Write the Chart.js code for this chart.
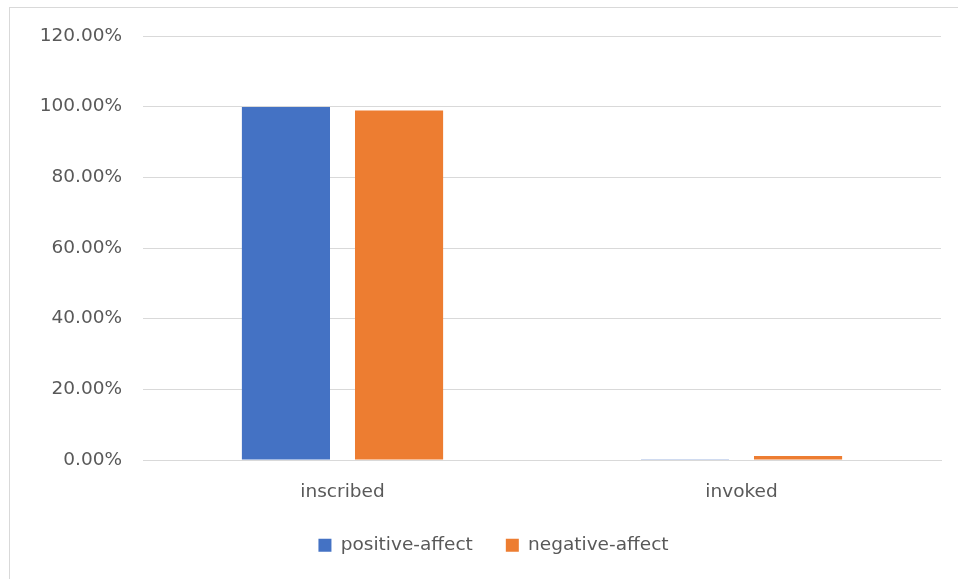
<!DOCTYPE html>
<html>
<head>
<meta charset="utf-8">
<script src="https://cdn.jsdelivr.net/npm/chart.js@4"></script>
<style>
    body { margin: 0; background: #fff; }
    #frame { position: absolute; left: 9px; top: 7px; width: 970px; height: 600px; border: 1px solid #d9d9d9; }
    #wrap { position: absolute; left: 0; top: 0; width: 958px; height: 579px; }
</style>
</head>
<body>
<div id="frame"></div>
<div id="wrap"><canvas id="g_affect"></canvas></div>
<script>
// categories et valeurs (en %)
const categories = ["inscribed", "invoked"];
const positiveAffect = [99.9, 0.1];
const negativeAffect = [98.9, 1.1];
const yTicks = [0, 20, 40, 60, 80, 100, 120];

const police = { family: "DejaVu Sans", size: 18.5 };

// decale la legende un peu a droite, comme dans Excel
const decaleLegende = {
    id: "decaleLegende",
    afterLayout: function(chart) {
        chart.legend.left += 23;
        chart.legend.right += 23;
    }
};

function affectChart() {
    const ctx = document.getElementById("g_affect").getContext("2d");
    let conData = {
        labels: categories,
        datasets: [{
            label: "positive-affect",
            backgroundColor: "#4472C4",
            data: positiveAffect
        }, {
            label: "negative-affect",
            backgroundColor: "#ED7D31",
            data: negativeAffect
        }]
    }
    let options = {
        responsive: true,
        maintainAspectRatio: false,
        animation: false,
        layout: { padding: { top: 36, right: 17, bottom: 14.5, left: 0 } },
        datasets: {
            bar: { categoryPercentage: 0.567, barPercentage: 0.779 }
        },
        scales: {
            x: {
                grid: { display: false, drawTicks: false },
                border: { color: "#d9d9d9" },
                ticks: { color: "#595959", font: police, padding: 21 },
                afterFit: function(axis) { axis.height = 43; }
            },
            y: {
                min: 0,
                max: 120,
                afterBuildTicks: function(axis) { axis.ticks = yTicks.map(v => ({ value: v })); },
                grid: { color: "#d9d9d9", drawTicks: false },
                border: { display: false },
                ticks: {
                    color: "#595959",
                    font: police,
                    padding: 21,
                    callback: function(v) { return v.toFixed(2) + "%"; }
                },
                afterFit: function(axis) { axis.width = 143; }
            }
        },
        plugins: {
            legend: {
                position: "bottom",
                labels: {
                    color: "#595959",
                    font: police,
                    boxWidth: 13,
                    boxHeight: 13,
                    padding: 33
                }
            },
            tooltip: { enabled: false }
        }
    }
    const config = {
        type: "bar",
        data: conData,
        options: options,
        plugins: [decaleLegende]
    }
    new Chart(ctx, config);
}

window.addEventListener('load', () => {
    affectChart();
})
</script>
</body>
</html>
